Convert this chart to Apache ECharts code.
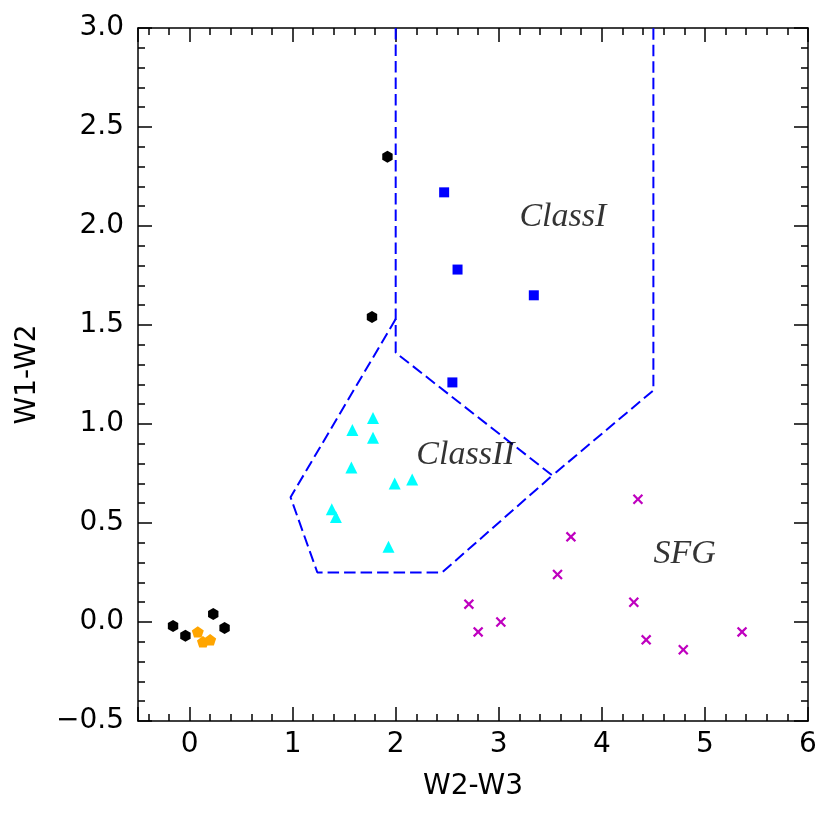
<!DOCTYPE html>
<html>
<head>
<meta charset="utf-8">
<script src="https://cdn.jsdelivr.net/npm/echarts@6/dist/echarts.min.js"></script>
<style>
  html, body { margin: 0; padding: 0; background: #fff; }
  #chart { width: 830px; height: 816px; }
</style>
</head>
<body>
<div id="chart"></div>
<script>
// colour-colour points (W2-W3, W1-W2)
var blackX = [-0.16, -0.04, 0.23, 0.34, 1.92, 1.77];
var blackY = [-0.02, -0.07, 0.04, -0.03, 2.35, 1.54];
var orangeX = [0.08, 0.13, 0.20];
var orangeY = [-0.05, -0.10, -0.09];
var blueX = [2.47, 2.60, 3.34, 2.55];
var blueY = [2.17, 1.78, 1.65, 1.21];
var cyanX = [1.78, 1.58, 1.78, 1.57, 1.99, 2.16, 1.38, 1.42, 1.93];
var cyanY = [1.03, 0.97, 0.93, 0.78, 0.70, 0.72, 0.57, 0.53, 0.38];
var magentaX = [4.35, 3.70, 3.57, 2.71, 3.02, 2.80, 4.31, 4.43, 4.79, 5.36];
var magentaY = [0.62, 0.43, 0.24, 0.09, 0.00, -0.05, 0.10, -0.09, -0.14, -0.05];

// region boundaries
var classIX = [2, 2, 3.52, 4.5, 4.5];
var classIY = [3, 1.36, 0.74, 1.17, 3];
var classIIX = [2, 0.98, 1.24, 2.45, 3.52];
var classIIY = [1.53, 0.63, 0.25, 0.25, 0.74];

// region labels
var regionNames = ['ClassI', 'ClassII', 'SFG'];
var regionX = [3.2, 2.2, 4.5];
var regionY = [2.0, 0.8, 0.3];

function pairs(xs, ys) {
    return xs.map(function (x, i) { return [x, ys[i]]; });
}

var hexagon = 'path://M0,-1L0.866,-0.5L0.866,0.5L0,1L-0.866,0.5L-0.866,-0.5Z';
var pentagon = 'path://M0,-1L0.951,-0.309L0.588,0.809L-0.588,0.809L-0.951,-0.309Z';
var cross = 'path://M-1,-0.7L-0.7,-1L0,-0.3L0.7,-1L1,-0.7L0.3,0L1,0.7L0.7,1L0,0.3L-0.7,1L-1,0.7L-0.3,0Z';

var fontMain = 'DejaVu Sans';

function minusFmt(s) { return s.replace('-', '\u2212'); }

var tickBase = {
    axisLine: { onZero: false, lineStyle: { color: '#000', width: 1.5 } },
    axisTick: { inside: true, length: 14, lineStyle: { color: '#000', width: 1.5 } },
    minorTick: { show: true, splitNumber: 5, length: 7, lineStyle: { color: '#000', width: 1.5 } },
    splitLine: { show: false }
};

function xAxisDef(pos, labels) {
    return Object.assign({
        type: 'value', position: pos, min: -0.5, max: 6,
        minInterval: 1, maxInterval: 1,
        axisLabel: {
            show: labels, color: '#000', fontSize: 28, fontFamily: fontMain, margin: 10,
            formatter: function (v) { return v === -0.5 ? '' : minusFmt(String(v)); }
        },
        name: labels ? 'W2-W3' : '',
        nameLocation: 'middle', nameGap: 52,
        nameTextStyle: { color: '#000', fontSize: 28, fontFamily: fontMain }
    }, tickBase);
}

function yAxisDef(pos, labels) {
    return Object.assign({
        type: 'value', position: pos, min: -0.5, max: 3, interval: 0.5,
        axisLabel: {
            show: labels, color: '#000', fontSize: 28, fontFamily: fontMain, margin: 14,
            formatter: function (v) { return minusFmt(v.toFixed(1)); }
        },
        name: labels ? 'W1-W2' : '',
        nameLocation: 'middle', nameGap: 96,
        nameTextStyle: { color: '#000', fontSize: 28, fontFamily: fontMain }
    }, tickBase);
}

function pointSeries(xs, ys, symbol, size, color) {
    return {
        type: 'scatter', data: pairs(xs, ys), symbol: symbol, symbolSize: size,
        symbolKeepAspect: true, itemStyle: { color: color, opacity: 1 },
        silent: true, z: 3
    };
}

function boundary(xs, ys) {
    return {
        type: 'line', data: pairs(xs, ys), showSymbol: false, symbol: 'none',
        lineStyle: { color: '#0000ff', width: 2, type: [11.5, 5] },
        silent: true, z: 2, animation: false
    };
}

var chart = echarts.init(document.getElementById('chart'), null, { renderer: 'canvas' });
var option = {
    animation: false,
    backgroundColor: '#fff',
    grid: { left: 138, right: 22, top: 28, bottom: 95, containLabel: false, outerBoundsMode: 'none' },
    xAxis: [xAxisDef('bottom', true), xAxisDef('top', false)],
    yAxis: [yAxisDef('left', true), yAxisDef('right', false)],
    series: [
        boundary(classIX, classIY),
        boundary(classIIX, classIIY),
        pointSeries(blackX, blackY, hexagon, 12, '#000000'),
        pointSeries(orangeX, orangeY, pentagon, 12, '#ffa500'),
        pointSeries(blueX, blueY, 'rect', 10, '#0000ff'),
        pointSeries(cyanX, cyanY, 'triangle', 12, '#00ffff'),
        pointSeries(magentaX, magentaY, cross, 10.5, '#bf00bf'),
        {
            type: 'scatter', symbolSize: 0, silent: true, z: 4,
            data: regionNames.map(function (n, i) {
                return { value: [regionX[i], regionY[i]], name: n };
            }),
            label: {
                show: true, position: [0, 0], align: 'left', verticalAlign: 'bottom',
                offset: [0, 8], formatter: '{b}', color: '#000',
                fontSize: 34, fontStyle: 'italic', fontFamily: 'Liberation Serif'
            }
        }
    ]
};
chart.setOption(option);
</script>
</body>
</html>
